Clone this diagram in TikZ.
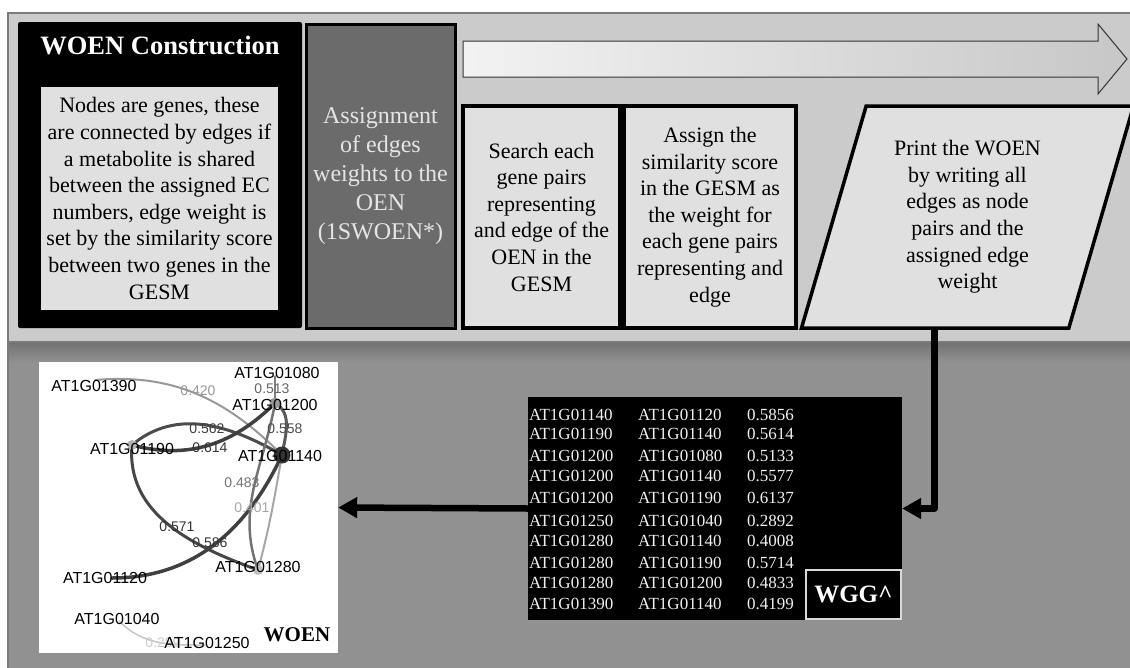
\documentclass[tikz,border=0pt]{standalone}
\usepackage{fontspec}
\setmainfont{Liberation Serif}
\newfontfamily\graphfont{Liberation Sans}
\usepackage{xcolor}
\usepackage{tikz}
\usetikzlibrary{arrows.meta, positioning, shapes.geometric}

\definecolor{panellight}{HTML}{CBCBCB}
\definecolor{paneldark}{HTML}{919191}
\definecolor{panelline}{HTML}{7A7A7A}
\definecolor{boxfill}{HTML}{E0E0E0}
\definecolor{darkbox}{HTML}{6B6B6B}

\begin{document}
\begin{tikzpicture}[x=1pt, y=1pt,
    % Styles
    process/.style={rectangle, draw=black, line width=3.5pt, fill=boxfill, align=center, inner sep=0pt, font=\fontsize{22}{26.6}\selectfont},
    cell/.style={anchor=west, inner sep=0pt, text=white!94!black, font=\fontsize{17}{17}\selectfont},
    gene/.style={inner sep=0pt, font=\graphfont\fontsize{16}{16}\selectfont},
    weight/.style={inner sep=0pt, font=\graphfont\fontsize{14}{14}\selectfont},
    dot/.style={circle, inner sep=0pt, minimum size=11pt},
    edge/.style={line cap=round},
    flow/.style={line width=6.5pt, line join=round, -{Triangle[width=20pt,length=19pt]}}
]
    \useasboundingbox (0,0) rectangle (1130,-667);
    \fill[white] (0,0) rectangle (1130,-667);

    % --- Panels ---
    \draw[panelline, line width=2pt, fill=panellight] (8,-13) rectangle (1132,-342);
    \draw[panelline, line width=2pt, fill=paneldark] (8,-342) rectangle (1132,-669);
    \shade[top color=black!55, bottom color=paneldark] (9,-343) rectangle (1131,-362);

    % --- Top: WOEN construction steps ---
    \node[fill=black, rounded corners=2pt, minimum width=284pt, minimum height=306pt] (constr) at (160,-175) {};
    \node[text=white, font=\fontsize{26.5}{30}\selectfont\bfseries] (title) at (160,-46) {WOEN Construction};
    \node[process, draw=none, minimum width=237pt, minimum height=223pt] (oen) at (159.5,-198.5) {Nodes are genes, these\\are connected by edges if\\a metabolite is shared\\between the assigned EC\\numbers, edge weight is\\set by the similarity score\\between two genes in the\\GESM};

    \node[process, line width=3pt, fill=darkbox, text=white!90!black, minimum width=149pt, minimum height=304pt, font=\fontsize{24}{29}\selectfont] (assign) at (380.5,-176) {Assignment\\of edges\\weights to the\\OEN\\(1SWOEN*)};

    % Process arrow
    \shade[left color=white!95!black, right color=black!22, draw=black!80, line width=1pt]
        (463,-41) -- (1098,-41) -- (1098,-24) -- (1127,-59) -- (1098,-94) -- (1098,-77) -- (463,-77) -- cycle;

    \node[process, minimum width=157pt, minimum height=222pt] (search) at (541.5,-217) {Search each\\gene pairs\\representing\\and edge of the\\OEN in the\\GESM};
    \node[process, minimum width=172pt, minimum height=222pt] (score) at (710,-217) {Assign the\\similarity score\\in the GESM as\\the weight for\\each gene pairs\\representing and\\edge};
    \node[process, trapezium, trapezium left angle=73, trapezium right angle=107, trapezium stretches=true, minimum width=333pt, minimum height=222pt] (print) at (967.5,-217) {Print the WOEN\\by writing all\\edges as node\\pairs and the\\assigned edge\\weight};

    % --- Bottom: weighted gene graph table ---
    \node[fill=black, minimum width=374pt, minimum height=223pt, inner sep=0pt] (tbl) at (715,-508.5) {};
    \foreach \y/\a/\b/\c [count=\i] in {415/AT1G01140/AT1G01120/0.5856, 434/AT1G01190/AT1G01140/0.5614,
        456/AT1G01200/AT1G01080/0.5133, 476/AT1G01200/AT1G01140/0.5577, 498/AT1G01200/AT1G01190/0.6137,
        521/AT1G01250/AT1G01040/0.2892, 541/AT1G01280/AT1G01140/0.4008, 563/AT1G01280/AT1G01190/0.5714,
        583/AT1G01280/AT1G01200/0.4833, 604/AT1G01390/AT1G01140/0.4199} {
        \node[cell] (a\i) at (529,-\y) {\a};
        \node[cell] (b\i) at (638,-\y) {\b};
        \node[cell] (c\i) at (747,-\y) {\c};
    }
    \node[draw=white!85!black, line width=1.5pt, fill=black, text=white, inner sep=0pt, minimum width=95pt, minimum height=49pt, font=\fontsize{25}{25}\selectfont\bfseries] (tag) at (853.5,-594.5) {WGG\textasciicircum};

    % --- Bottom: WOEN graph ---
    \node[fill=white, minimum width=299pt, minimum height=291pt, inner sep=0pt] (woen) at (188.5,-507.5) {};

    \coordinate (g1390) at (95,-380);
    \coordinate (g1080) at (275,-376);
    \coordinate (g1200) at (275,-403);
    \coordinate (g1190) at (132,-445);
    \coordinate (g1140) at (282,-455);
    \coordinate (g1280) at (258,-570);
    \coordinate (g1120) at (112,-578);
    \coordinate (g1040) at (119,-621);
    \coordinate (g1250) at (205,-645);

    % edges
    \draw[edge, black!40, line width=2pt] (g1390) to[out=5, in=135] (g1140);
    \draw[edge, black!50, line width=1.5pt] (g1200) -- (g1080);
    \draw[edge, black!65, line width=3pt] (g1200) to[out=-30, in=80] (g1140);
    \draw[edge, black!70, line width=3pt] (g1190) to[out=40, in=150] (g1140);
    \draw[edge, black!75, line width=3.5pt] (g1200) to[out=225, in=-15] (g1190);
    \draw[edge, black!72, line width=3pt] (g1190) to[out=-95, in=160] (g1280);
    \draw[edge, black!75, line width=3.5pt] (g1140) to[out=-115, in=0] (g1120);
    \draw[edge, black!55, line width=2.5pt] (g1280) to[out=110, in=-100] (g1200);
    \draw[edge, black!35, line width=2pt] (g1280) to[out=75, in=-100] (g1140);
    \draw[edge, black!22, line width=1.5pt] (g1040) to[out=-45, in=180] (g1250);

    % nodes
    \node[dot, fill=black!40] (d1200) at (g1200) {};
    \node[dot, fill=black!30, minimum size=10pt] (d1190) at (g1190) {};
    \node[dot, fill=black!80, minimum size=17pt] (d1140) at (g1140) {};
    \node[dot, fill=black!25, minimum size=10pt] (d1280) at (g1280) {};

    % weights
    \node[weight, text=black!40] (w420) at (198,-391) {0.420};
    \node[weight, text=black!60] (w513) at (272,-389) {0.513};
    \node[weight, text=black!75] (w562) at (207,-429) {0.562};
    \node[weight, text=black!80] (w614) at (210,-448) {0.614};
    \node[weight, text=black!70] (w558) at (285,-429) {0.558};
    \node[weight, text=black!55] (w483) at (242,-483) {0.483};
    \node[weight, text=black!35] (w401) at (252,-508) {0.401};
    \node[weight, text=black!80] (w571) at (177,-527) {0.571};
    \node[weight, text=black!80] (w586) at (210,-543) {0.586};
    \node[weight, text=black!20] (w289) at (163,-643) {0.289};

    % gene labels
    \node[gene] (l1390) at (94,-386) {AT1G01390};
    \node[gene] (l1080) at (277,-373) {AT1G01080};
    \node[gene] (l1200) at (275,-405) {AT1G01200};
    \node[gene] (l1190) at (132,-449) {AT1G01190};
    \node[gene] (l1140) at (280,-456) {AT1G01140};
    \node[gene] (l1280) at (258,-567) {AT1G01280};
    \node[gene] (l1120) at (105,-578) {AT1G01120};
    \node[gene] (l1040) at (117,-619) {AT1G01040};
    \node[gene] (l1250) at (207,-643) {AT1G01250};
    \node[font=\fontsize{21}{21}\selectfont\bfseries] (woenlabel) at (297,-635) {WOEN};

    % --- Connectors ---
    \draw[flow] (print.bottom side) |- (tbl.east);
    \draw[flow] (tbl.west) -- (woen.east);

\end{tikzpicture}
\end{document}
